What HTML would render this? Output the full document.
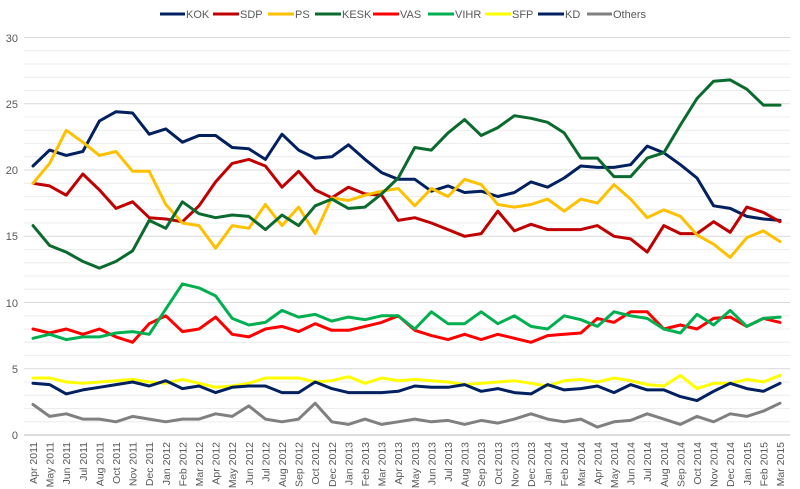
<!DOCTYPE html>
<html><head><meta charset="utf-8"><style>
body{margin:0;background:#fff;}
svg{display:block;font-family:"Liberation Sans",sans-serif;}
</style></head><body>
<svg id="c" width="800" height="489" viewBox="0 0 800 489">
<g id="grid"></g>
<g font-size="11" fill="#595959" text-anchor="end">
<text x="18" y="439">0</text><text x="18" y="373">5</text><text x="18" y="307">10</text><text x="18" y="240">15</text><text x="18" y="174">20</text><text x="18" y="108">25</text><text x="18" y="42">30</text>
</g>
<g id="xl" font-size="10.5" fill="#595959" text-anchor="end">
<text>Apr 2011</text><text>May 2011</text><text>Jun 2011</text><text>Jul 2011</text><text>Aug 2011</text><text>Oct 2011</text><text>Nov 2011</text><text>Dec 2011</text><text>Jan 2012</text><text>Feb 2012</text><text>Mar 2012</text><text>Apr 2012</text><text>May 2012</text><text>Jun 2012</text><text>Jul 2012</text><text>Aug 2012</text><text>Sep 2012</text><text>Oct 2012</text><text>Dec 2012</text><text>Jan 2013</text><text>Feb 2013</text><text>Mar 2013</text><text>Apr 2013</text><text>May 2013</text><text>Jun 2013</text><text>Jul 2013</text><text>Aug 2013</text><text>Sep 2013</text><text>Oct 2013</text><text>Nov 2013</text><text>Dec 2013</text><text>Jan 2014</text><text>Feb 2014</text><text>Mar 2014</text><text>Apr 2014</text><text>May 2014</text><text>Jun 2014</text><text>Jul 2014</text><text>Aug 2014</text><text>Sep 2014</text><text>Oct 2014</text><text>Nov 2014</text><text>Dec 2014</text><text>Jan 2015</text><text>Feb 2015</text><text>Mar 2015</text>
</g>
<g id="lines" fill="none" stroke-width="3" stroke-linejoin="round" stroke-linecap="round"></g>
<g font-size="11" fill="#595959">
<line x1="160" y1="14" x2="185" y2="14" stroke="#002060" stroke-width="3"/><text x="186" y="18">KOK</text>
<line x1="213" y1="14" x2="239" y2="14" stroke="#c00000" stroke-width="3"/><text x="240" y="18">SDP</text>
<line x1="268" y1="14" x2="294" y2="14" stroke="#ffc000" stroke-width="3"/><text x="295" y="18">PS</text>
<line x1="315" y1="14" x2="341" y2="14" stroke="#0b6b2e" stroke-width="3"/><text x="342" y="18">KESK</text>
<line x1="373" y1="14" x2="399" y2="14" stroke="#ff0000" stroke-width="3"/><text x="400" y="18">VAS</text>
<line x1="428" y1="14" x2="454" y2="14" stroke="#00b050" stroke-width="3"/><text x="455" y="18">VIHR</text>
<line x1="485" y1="14" x2="511" y2="14" stroke="#ffff00" stroke-width="3"/><text x="512" y="18">SFP</text>
<line x1="538" y1="14" x2="564" y2="14" stroke="#002060" stroke-width="3"/><text x="565" y="18">KD</text>
<line x1="587" y1="14" x2="612" y2="14" stroke="#808080" stroke-width="3"/><text x="613" y="18">Others</text>
</g>
</svg>
<script>
var NS="http://www.w3.org/2000/svg";
function Y(v){return 435-13.25*v;}
function X(i){return 33+16.6*i;}
var g=document.getElementById('grid');
for(var k=0;k<=30;k++){var l=document.createElementNS(NS,'line');l.setAttribute('x1',24);l.setAttribute('x2',790);l.setAttribute('y1',Y(k));l.setAttribute('y2',Y(k));l.setAttribute('stroke',k==0?'#d0d0d0':(k%5==0?'#d9d9d9':'#ececec'));l.setAttribute('stroke-width',k==0?1.5:1);g.appendChild(l);}
var xl=document.getElementById('xl').children;
for(var i=0;i<xl.length;i++){xl[i].setAttribute('transform','translate('+(X(i)+4)+',442) rotate(-90)');}
var S=[
["#002060",[20.3,21.5,21.1,21.4,23.7,24.4,24.3,22.7,23.1,22.1,22.6,22.6,21.7,21.6,20.8,22.7,21.5,20.9,21.0,21.9,20.8,19.8,19.3,19.3,18.4,18.8,18.3,18.4,18.0,18.3,19.1,18.7,19.4,20.3,20.2,20.2,20.4,21.8,21.3,20.4,19.4,17.3,17.1,16.5,16.3,16.2]],
["#c00000",[19.0,18.8,18.1,19.7,18.5,17.1,17.6,16.4,16.3,16.1,17.3,19.1,20.5,20.8,20.3,18.7,19.9,18.5,17.9,18.7,18.2,18.1,16.2,16.4,16.0,15.5,15.0,15.2,16.9,15.4,15.9,15.5,15.5,15.5,15.8,15.0,14.8,13.8,15.8,15.2,15.2,16.1,15.3,17.2,16.8,16.1]],
["#ffc000",[19,20.5,23,22.1,21.1,21.4,19.9,19.9,17.4,16.0,15.8,14.1,15.8,15.6,17.4,15.8,17.2,15.2,17.9,17.7,18.1,18.4,18.6,17.3,18.6,18.0,19.3,18.9,17.4,17.2,17.4,17.8,16.9,17.8,17.5,18.9,17.8,16.4,17.0,16.5,15.1,14.4,13.4,14.9,15.4,14.6]],
["#0b6b2e",[15.8,14.3,13.8,13.1,12.6,13.1,13.9,16.2,15.6,17.6,16.7,16.4,16.6,16.5,15.5,16.6,15.8,17.3,17.8,17.1,17.2,18.2,19.4,21.7,21.5,22.8,23.8,22.6,23.2,24.1,23.9,23.6,22.8,20.9,20.9,19.5,19.5,20.9,21.3,23.4,25.4,26.7,26.8,26.1,24.9,24.9]],
["#ff0000",[8.0,7.7,8.0,7.6,8.0,7.4,7.0,8.4,9.0,7.8,8.0,8.9,7.6,7.4,8.0,8.2,7.8,8.4,7.9,7.9,8.2,8.5,9.0,7.9,7.5,7.2,7.6,7.2,7.6,7.3,7.0,7.5,7.6,7.7,8.8,8.5,9.3,9.3,8.0,8.3,8.0,8.8,8.9,8.2,8.8,8.5]],
["#00b050",[7.3,7.6,7.2,7.4,7.4,7.7,7.8,7.6,9.5,11.4,11.1,10.5,8.8,8.3,8.5,9.4,8.9,9.1,8.6,8.9,8.7,9.0,9.0,8.0,9.3,8.4,8.4,9.3,8.4,9.0,8.2,8.0,9.0,8.7,8.2,9.3,9.0,8.8,8.0,7.7,9.1,8.3,9.4,8.2,8.8,8.9]],
["#ffff00",[4.3,4.3,4.0,3.9,4.0,4.1,4.2,4.0,3.9,4.2,3.9,3.6,3.7,3.9,4.3,4.3,4.3,4.0,4.1,4.4,3.9,4.3,4.1,4.2,4.1,4.0,3.8,3.9,4.0,4.1,3.9,3.7,4.1,4.2,4.0,4.3,4.1,3.8,3.7,4.5,3.5,3.9,3.9,4.2,4.0,4.5]],
["#002060",[3.9,3.8,3.1,3.4,3.6,3.8,4.0,3.7,4.1,3.5,3.7,3.2,3.6,3.7,3.7,3.2,3.2,4.0,3.5,3.2,3.2,3.2,3.3,3.7,3.6,3.6,3.8,3.3,3.5,3.2,3.1,3.8,3.4,3.5,3.7,3.2,3.8,3.4,3.4,2.9,2.6,3.3,3.9,3.5,3.3,3.9]],
["#808080",[2.3,1.4,1.6,1.2,1.2,1.0,1.4,1.2,1.0,1.2,1.2,1.6,1.4,2.2,1.2,1.0,1.2,2.4,1.0,0.8,1.2,0.8,1.0,1.2,1.0,1.1,0.8,1.1,0.9,1.2,1.6,1.2,1.0,1.2,0.6,1.0,1.1,1.6,1.2,0.8,1.4,1.0,1.6,1.4,1.8,2.4]]
];
var L=document.getElementById('lines');
S.forEach(function(s){var p=s[1].map(function(v,i){return X(i).toFixed(1)+','+Y(v).toFixed(1);}).join(' ');var e=document.createElementNS(NS,'polyline');e.setAttribute('points',p);e.setAttribute('stroke',s[0]);L.appendChild(e);});
</script>
</body></html>
